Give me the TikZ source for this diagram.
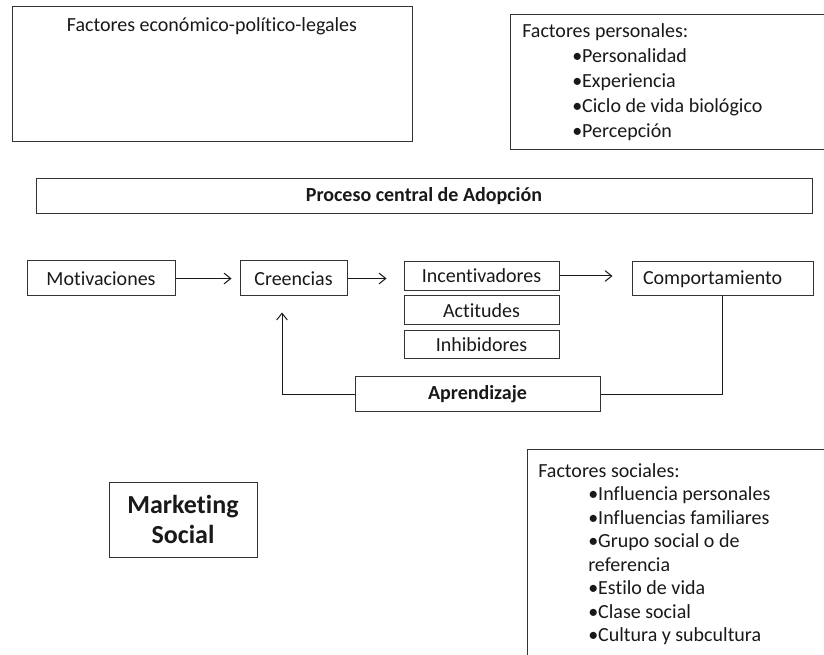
\documentclass[tikz,border=0pt]{standalone}
\usepackage{fontspec}
\setmainfont{Carlito}[Ligatures=NoCommon]
\usetikzlibrary{arrows.meta,calc}
\begin{document}
\begin{tikzpicture}[x=0.75pt,y=-0.75pt,
  box/.style={draw=black!80,line width=0.75pt,inner sep=0pt,minimum height=26.25pt,font=\fontsize{15}{18}\selectfont,text=black!90},
  txt/.style={inner sep=0pt,font=\fontsize{15}{18}\selectfont,text=black!90},
  arr/.style={draw=black!90,line width=0.75pt,-{Straight Barb[length=5pt,width=8pt]}},
  conn/.style={draw=black!90,line width=0.75pt}]
\clip (0,0) rectangle (824,655);
\fill[white] (0,0) rectangle (824,655);
% top boxes
\node[box,minimum width=300pt,minimum height=101.25pt] (econ) at (212,74.5) {};
\node[txt,anchor=base] (econt) at (212,32) {Factores económico-político-legales};
\node[box,minimum width=240pt,minimum height=101.25pt] (pers) at (670,82.5) {};
\node[txt,anchor=base west,align=left,font=\fontsize{15}{18.75}\selectfont] (perst) at (522,138)
  {Factores personales:\\
   \hspace*{37.5pt}•Personalidad\\
   \hspace*{37.5pt}•Experiencia\\
   \hspace*{37.5pt}•Ciclo de vida biológico\\
   \hspace*{37.5pt}•Percepción};
% central process
\node[box,minimum width=582pt,minimum height=26.25pt,font=\bfseries\fontsize{15}{18}\selectfont] (proc) at (424,196.5) {Proceso central de Adopción};
\node[box,minimum width=111pt] (mot) at (101,278.5) {Motivaciones};
\node[box,minimum width=80.25pt] (cre) at (293.5,278.5) {Creencias};
\node[box,minimum width=116.25pt,minimum height=21.75pt] (inc) at (481.5,276) {Incentivadores};
\node[box,minimum width=116.25pt,minimum height=21.75pt] (act) at (481.5,310.5) {Actitudes};
\node[box,minimum width=116.25pt,minimum height=21pt] (inh) at (481.5,345) {Inhibidores};
\node[box,text width=119.25pt,inner xsep=8.25pt,align=left,minimum height=25.5pt] (comp) at (722.5,279) {Comportamiento};
\node[box,minimum width=183.75pt,font=\bfseries\fontsize{15}{18}\selectfont] (apr) at (477.5,394.5) {Aprendizaje};
% connectors
\draw[arr,shorten >=6pt] (mot.east) -- (cre.west);
\draw[arr,shorten >=12.75pt] (cre.east) -- (cre.east -| inc.west);
\draw[arr,shorten >=14.25pt] (inc.east) -- (inc.east -| comp.west);
\draw[conn] (comp.south) |- (apr.east);
\coordinate (fb) at ($(cre.south)+(-11.5,16)$);
\draw[arr] (apr.west) -| (fb);
% bottom
\node[box,minimum width=111pt,minimum height=56.25pt,align=center,font=\bfseries\fontsize{19.5}{22.5}\selectfont] (mkt) at (183,519.5) {Marketing\\Social};
\node[box,minimum width=234.75pt,minimum height=187.5pt] (soc) at (683.5,575) {};
\node[txt,anchor=base west,align=left,font=\fontsize{15}{17.6}\selectfont] (soct) at (538,641.5)
  {Factores sociales:\\
   \hspace*{37.5pt}•Influencia personales\\
   \hspace*{37.5pt}•Influencias familiares\\
   \hspace*{37.5pt}•Grupo social o de\\
   \hspace*{37.5pt}referencia\\
   \hspace*{37.5pt}•Estilo de vida\\
   \hspace*{37.5pt}•Clase social\\
   \hspace*{37.5pt}•Cultura y subcultura};
\end{tikzpicture}
\end{document}
